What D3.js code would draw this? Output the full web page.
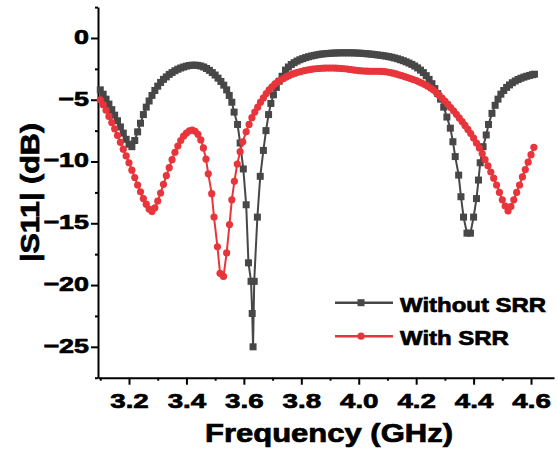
<!DOCTYPE html>
<meta charset="utf-8">
<style>
body{margin:0;background:#fff;}
svg{display:block}
text{font-family:"Liberation Sans",Arial,sans-serif;font-weight:bold;fill:#000;}
</style>
<svg id="chart" width="558" height="454"></svg>
<script src="https://cdn.jsdelivr.net/npm/d3@7"></script>
<script>
// |S11| vs frequency, with and without SRR

// [frequency GHz, |S11| dB]
const withoutSRR = [
  [3.10,-4.2],[3.11,-4.55],[3.12,-4.95],[3.13,-5.35],[3.14,-5.8],[3.15,-6.25],[3.16,-6.7],[3.17,-7.2],[3.18,-7.7],[3.19,-8.2],
  [3.20,-8.6],[3.21,-8.8],[3.22,-8.3],[3.23,-7.6],[3.24,-6.9],[3.25,-6.2],[3.26,-5.6],[3.27,-5.1],[3.28,-4.65],[3.29,-4.25],
  [3.30,-3.9],[3.31,-3.6],[3.32,-3.35],[3.33,-3.15],[3.34,-2.95],[3.35,-2.8],[3.36,-2.65],[3.37,-2.53],[3.38,-2.43],[3.39,-2.35],
  [3.40,-2.28],[3.41,-2.23],[3.42,-2.2],[3.43,-2.2],[3.44,-2.22],[3.45,-2.27],[3.46,-2.35],[3.47,-2.47],[3.48,-2.62],[3.49,-2.8],
  [3.50,-3.0],[3.51,-3.25],[3.52,-3.52],[3.53,-3.82],[3.54,-4.2],[3.549,-4.65],[3.558,-5.2],[3.566,-6.0],[3.578,-7.0],[3.587,-8.5],
  [3.598,-10.6],[3.608,-13.5],[3.616,-18.2],[3.625,-19.7],[3.629,-22.3],[3.632,-25.0],[3.636,-19.7],[3.647,-14.5],[3.657,-11.2],[3.668,-9.1],
  [3.677,-7.5],[3.686,-6.2],[3.694,-5.3],[3.703,-4.6],[3.713,-4.0],[3.723,-3.5],[3.733,-3.1],[3.745,-2.6],[3.755,-2.35],[3.765,-2.15],
  [3.775,-2.0],[3.785,-1.87],[3.795,-1.76],[3.805,-1.67],[3.815,-1.59],[3.825,-1.52],[3.835,-1.46],[3.845,-1.41],[3.855,-1.36],[3.865,-1.32],
  [3.875,-1.29],[3.885,-1.27],[3.895,-1.25],[3.905,-1.23],[3.915,-1.22],[3.925,-1.21],[3.935,-1.2],[3.945,-1.2],[3.955,-1.2],[3.965,-1.2],
  [3.975,-1.2],[3.985,-1.21],[3.995,-1.22],[4.005,-1.23],[4.015,-1.25],[4.025,-1.27],[4.035,-1.29],[4.045,-1.31],[4.055,-1.34],[4.065,-1.37],
  [4.075,-1.4],[4.085,-1.43],[4.095,-1.47],[4.105,-1.51],[4.115,-1.56],[4.125,-1.62],[4.135,-1.68],[4.145,-1.76],[4.155,-1.84],[4.165,-1.93],
  [4.175,-2.03],[4.185,-2.14],[4.195,-2.27],[4.205,-2.42],[4.215,-2.6],[4.225,-2.8],[4.235,-3.05],[4.245,-3.35],[4.255,-3.7],[4.265,-4.1],
  [4.275,-4.5],[4.285,-4.95],[4.296,-5.6],[4.307,-6.4],[4.319,-7.3],[4.328,-8.4],[4.336,-9.6],[4.348,-11.1],[4.356,-12.85],[4.365,-14.5],
  [4.377,-15.8],[4.389,-15.8],[4.40,-14.5],[4.41,-13.0],[4.417,-11.5],[4.423,-10.1],[4.433,-8.8],[4.444,-7.85],[4.452,-7.0],[4.464,-6.1],
  [4.475,-5.45],[4.485,-4.95],[4.495,-4.55],[4.505,-4.25],[4.515,-4.0],[4.525,-3.8],[4.535,-3.62],[4.545,-3.48],[4.555,-3.36],[4.565,-3.26],
  [4.575,-3.17],[4.585,-3.1],[4.595,-3.03],[4.605,-2.97],[4.612,-2.93]
]

const withSRR = [
  [3.10,-5.0],[3.11,-5.4],[3.12,-5.85],[3.13,-6.35],[3.14,-6.85],[3.15,-7.35],[3.16,-7.9],[3.17,-8.45],[3.18,-9.0],[3.19,-9.55],
  [3.20,-10.1],[3.21,-10.7],[3.22,-11.3],[3.23,-11.9],[3.24,-12.45],[3.25,-13.0],[3.26,-13.45],[3.27,-13.85],[3.28,-14.05],[3.29,-13.75],
  [3.30,-13.2],[3.31,-12.55],[3.32,-11.85],[3.33,-11.15],[3.34,-10.5],[3.35,-9.85],[3.36,-9.25],[3.37,-8.75],[3.38,-8.3],[3.39,-7.95],
  [3.40,-7.7],[3.41,-7.52],[3.42,-7.45],[3.43,-7.55],[3.44,-7.8],[3.45,-8.25],[3.459,-8.9],[3.468,-9.8],[3.476,-11.0],[3.488,-12.6],
  [3.496,-14.5],[3.508,-16.9],[3.517,-19.05],[3.529,-19.3],[3.54,-17.4],[3.55,-15.1],[3.558,-13.1],[3.567,-11.6],[3.577,-10.2],[3.587,-9.2],
  [3.596,-8.4],[3.608,-7.6],[3.618,-7.0],[3.628,-6.45],[3.638,-6.0],[3.648,-5.6],[3.658,-5.2],[3.668,-4.85],[3.678,-4.5],[3.688,-4.2],
  [3.698,-3.95],[3.708,-3.72],[3.718,-3.55],[3.728,-3.4],[3.738,-3.27],[3.748,-3.15],[3.758,-3.03],[3.768,-2.93],[3.778,-2.85],[3.788,-2.78],
  [3.798,-2.72],[3.81,-2.65],[3.82,-2.6],[3.83,-2.56],[3.84,-2.52],[3.85,-2.49],[3.86,-2.47],[3.87,-2.45],[3.88,-2.44],[3.89,-2.43],
  [3.90,-2.43],[3.91,-2.43],[3.92,-2.44],[3.93,-2.45],[3.94,-2.47],[3.95,-2.49],[3.96,-2.52],[3.97,-2.55],[3.98,-2.58],[3.99,-2.61],
  [4.00,-2.64],[4.01,-2.66],[4.02,-2.68],[4.03,-2.69],[4.04,-2.7],[4.05,-2.7],[4.06,-2.7],[4.07,-2.7],[4.08,-2.71],[4.09,-2.73],
  [4.10,-2.76],[4.11,-2.8],[4.12,-2.85],[4.13,-2.91],[4.14,-2.98],[4.15,-3.05],[4.16,-3.12],[4.17,-3.2],[4.18,-3.28],[4.19,-3.36],
  [4.20,-3.45],[4.21,-3.55],[4.22,-3.65],[4.23,-3.77],[4.24,-3.9],[4.25,-4.05],[4.26,-4.22],[4.27,-4.42],[4.28,-4.63],[4.29,-4.86],
  [4.30,-5.1],[4.31,-5.36],[4.32,-5.63],[4.33,-5.9],[4.34,-6.18],[4.35,-6.47],[4.36,-6.77],[4.37,-7.08],[4.38,-7.4],[4.39,-7.74],
  [4.40,-8.1],[4.41,-8.5],[4.42,-8.9],[4.43,-9.35],[4.44,-9.85],[4.45,-10.35],[4.46,-10.85],[4.47,-11.35],[4.48,-11.9],[4.49,-12.5],
  [4.50,-13.1],[4.51,-13.6],[4.52,-14.0],[4.53,-13.65],[4.54,-13.1],[4.55,-12.5],[4.56,-11.9],[4.57,-11.25],[4.58,-10.65],[4.59,-10.05],
  [4.60,-9.45],[4.61,-8.85]
]

const xMajor = [3.2, 3.4, 3.6, 3.8, 4.0, 4.2, 4.4, 4.6]
const xMinor = [3.1, 3.3, 3.5, 3.7, 3.9, 4.1, 4.3, 4.5]
const yMajor = [0, -5, -10, -15, -20, -25]
const yMinor = [2.5, -2.5, -7.5, -12.5, -17.5, -22.5, -27.5]
const seriesNames = ['Without SRR', 'With SRR']
const seriesColors = ['#474747', '#e8353b']

const svg = d3.select('#chart')

const x = d3.scaleLinear().domain([3.092, 4.68]).range([98, 554])
const y = d3.scaleLinear().domain([-27.5, 2.5]).range([377.7, 7.1])

// stretch text horizontally, the original font is wider than Arial
function widen(sel, k) {
  sel.each(function () {
    const w = this.getComputedTextLength()
    d3.select(this).attr('textLength', w * k).attr('lengthAdjust', 'spacingAndGlyphs')
  })
}

// axes
const xAxis = svg.append('g').attr('transform', 'translate(0,377.7)')
  .call(d3.axisBottom(x).tickValues(xMajor).tickFormat(d3.format('.1f')).tickSize(7).tickSizeOuter(0))
svg.append('g').attr('transform', 'translate(0,377.7)')
  .call(d3.axisBottom(x).tickValues(xMinor).tickFormat('').tickSize(3).tickSizeOuter(0))
  .select('.domain').remove()

const yAxis = svg.append('g').attr('transform', 'translate(98,0)')
  .call(d3.axisLeft(y).tickValues(yMajor).tickFormat(d3.format('d')).tickSize(7).tickSizeOuter(0))
svg.append('g').attr('transform', 'translate(98,0)')
  .call(d3.axisLeft(y).tickValues(yMinor).tickFormat('').tickSize(3).tickSizeOuter(0))
  .select('.domain').remove()

svg.selectAll('.domain, .tick line').attr('stroke', '#000').attr('stroke-width', 2)

xAxis.selectAll('.tick text')
  .attr('dy', null).attr('y', 30.6)
  .style('font-size', '21px')
yAxis.selectAll('.tick text')
  .attr('dy', null).attr('x', -9).attr('y', 5.4)
  .style('font-size', '21px')
svg.selectAll('.tick text').attr('font-family', null).attr('font-size', null)
  .attr('fill', '#000').attr('stroke', '#000').attr('stroke-width', 0.7)
widen(xAxis.selectAll('.tick text'), 1.32)
widen(yAxis.selectAll('.tick text'), 1.28)

// axis titles
const xTitle = svg.append('text')
  .attr('x', 329).attr('y', 441.5).attr('text-anchor', 'middle')
  .style('font-size', '25px').attr('stroke', '#000').attr('stroke-width', 0.7)
  .text('Frequency (GHz)')
widen(xTitle, 1.24)

const yTitle = svg.append('text')
  .attr('transform', 'translate(39,192.5) rotate(-90)').attr('text-anchor', 'middle')
  .style('font-size', '25px').attr('stroke', '#000').attr('stroke-width', 0.7)
  .text('|S11| (dB)')
widen(yTitle, 1.22)

// series
const line = d3.line().x(d => x(d[0])).y(d => y(d[1]))

svg.append('path').datum(withoutSRR)
  .attr('d', line).attr('fill', 'none')
  .attr('stroke', seriesColors[0]).attr('stroke-width', 2)
svg.append('g').selectAll('rect').data(withoutSRR).join('rect')
  .attr('x', d => x(d[0]) - 3.5).attr('y', d => y(d[1]) - 3.5)
  .attr('width', 7).attr('height', 7).attr('fill', seriesColors[0])

svg.append('path').datum(withSRR)
  .attr('d', line).attr('fill', 'none')
  .attr('stroke', seriesColors[1]).attr('stroke-width', 2)
svg.append('g').selectAll('circle').data(withSRR).join('circle')
  .attr('cx', d => x(d[0])).attr('cy', d => y(d[1]))
  .attr('r', 3.6).attr('fill', seriesColors[1])

// legend
const legend = svg.append('g').selectAll('g').data(seriesNames).join('g')
  .attr('transform', (d, i) => `translate(335,${302.7 + i * 33.5})`)
legend.append('line')
  .attr('x1', 0).attr('x2', 58).attr('y1', 0).attr('y2', 0)
  .attr('stroke', (d, i) => seriesColors[i]).attr('stroke-width', 2.5)
legend.filter((d, i) => i === 0).append('rect')
  .attr('x', 22.5).attr('y', -3.5).attr('width', 7).attr('height', 7).attr('fill', seriesColors[0])
legend.filter((d, i) => i === 1).append('circle')
  .attr('cx', 26).attr('cy', 0).attr('r', 3.6).attr('fill', seriesColors[1])
const legendText = legend.append('text')
  .attr('x', 65).attr('y', 8.8)
  .style('font-size', '21px').attr('stroke', '#000').attr('stroke-width', 0.7)
  .text(d => d)
widen(legendText, 1.14)
</script>
